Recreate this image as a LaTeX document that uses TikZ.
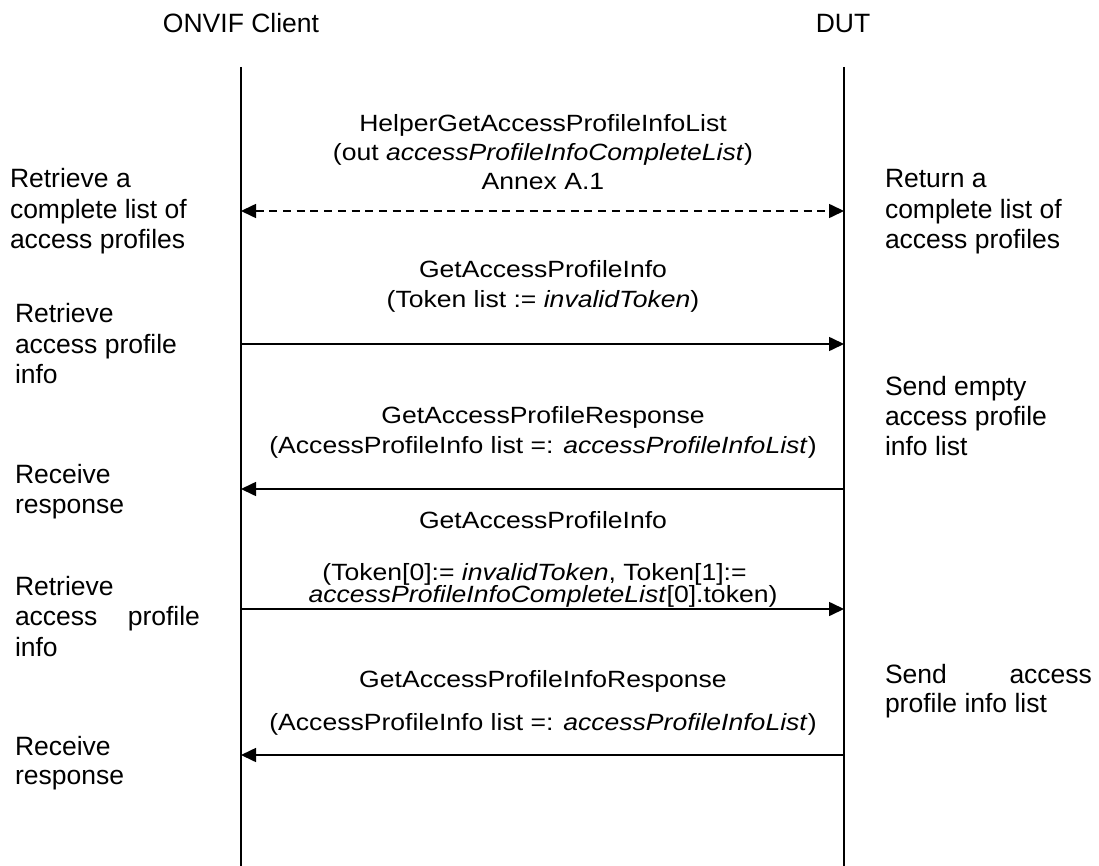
\documentclass[tikz,border=0pt]{standalone}
\usepackage{fontspec}
\setmainfont{Liberation Sans}
\newfontfamily\msgfont[FakeStretch=1.13]{Liberation Sans}
\usetikzlibrary{arrows.meta}
\newcommand\linesC[2]{\vtop{\baselineskip=#1\lineskiplimit=-1000pt\lineskip=0pt\halign{\hfil##\hfil\cr#2\crcr}}}
\newcommand\linesL[2]{\vtop{\baselineskip=#1\lineskiplimit=-1000pt\lineskip=0pt\halign{##\hfil\cr#2\crcr}}}
\begin{document}
\begin{tikzpicture}[x=1pt,y=-1pt,
  txt/.style={inner sep=0pt, outer sep=0pt, anchor=base, font=\fontsize{26.5}{30}\selectfont},
  msgtxt/.style={inner sep=0pt, outer sep=0pt, anchor=base, font=\msgfont\fontsize{23.5}{29}\selectfont},
  side/.style={inner sep=0pt, outer sep=0pt, anchor=base west, font=\fontsize{26.5}{30}\selectfont},
  lifeline/.style={line width=1.8pt},
  msg/.style={line width=1.6pt, -{Triangle[length=15pt,width=14pt]}},
  dmsg/.style={line width=1.6pt, dash pattern=on 8pt off 5.7pt, {Triangle[length=15pt,width=14pt]}-{Triangle[length=15pt,width=14pt]}}]
\fill[white] (0,0) rectangle (1099,866);
\useasboundingbox (0,0) rectangle (1099,866);

% headers
\node[txt] (client) at (241,33) {ONVIF Client};
\node[txt] (dut) at (843,33) {DUT};

% lifelines
\coordinate (ctop) at (241,67);
\coordinate (cbot) at (241,866);
\coordinate (dtop) at (844,67);
\coordinate (dbot) at (844,866);
\draw[lifeline] (ctop) -- (cbot);
\draw[lifeline] (dtop) -- (dbot);

% arrow end points
\coordinate (c1) at (241,211); \coordinate (d1) at (844,211);
\coordinate (c2) at (241,344); \coordinate (d2) at (844,344);
\coordinate (c3) at (241,489); \coordinate (d3) at (844,489);
\coordinate (c4) at (241,609); \coordinate (d4) at (844,609);
\coordinate (c5) at (241,755); \coordinate (d5) at (844,755);

% messages
\node[msgtxt] (m1) at (543,132) {\linesC{29pt}{HelperGetAccessProfileInfoList\cr (out \textit{accessProfileInfoCompleteList})\cr Annex A.1}};
\draw[dmsg] (c1) -- (d1);

\node[msgtxt] (m2) at (543,278) {\linesC{29pt}{GetAccessProfileInfo\cr (Token list := \textit{invalidToken})}};
\draw[msg] (c2) -- (d2);

\node[msgtxt] (m3) at (543,423) {\linesC{30pt}{GetAccessProfileResponse\cr (AccessProfileInfo list =: \textit{accessProfileInfoList})}};
\draw[msg] (d3) -- (c3);

\node[msgtxt] (m4a) at (543,528) {GetAccessProfileInfo};
\node[msgtxt] (m4b) at (543,580) {\linesC{22.5pt}{(Token[0]:= \textit{invalidToken}, Token[1]:=\kern17pt\cr \textit{accessProfileInfoCompleteList}[0].token)}};
\draw[msg] (c4) -- (d4);

\node[msgtxt] (m5a) at (543,687) {GetAccessProfileInfoResponse};
\node[msgtxt] (m5b) at (543,730) {(AccessProfileInfo list =: \textit{accessProfileInfoList})};
\draw[msg] (d5) -- (c5);

% client side notes
\node[side] (l1) at (10,188) {\linesL{30.5pt}{Retrieve a\cr complete list of\cr access profiles}};
\node[side] (l2) at (15,323) {\linesL{30pt}{Retrieve\cr access profile\cr info}};
\node[side] (l3) at (15,483) {\linesL{30pt}{Receive\cr response}};
\node[side] (l4) at (15,595) {\linesL{30.5pt}{Retrieve\cr \hbox to 185pt{access\hfil profile}\cr info}};
\node[side] (l5) at (15,755) {\linesL{29pt}{Receive\cr response}};

% DUT side notes
\node[side] (r1) at (885,188) {\linesL{30.5pt}{Return a\cr complete list of\cr access profiles}};
\node[side] (r2) at (885,395) {\linesL{30pt}{Send empty\cr access profile\cr info list}};
\node[side] (r3) at (885,683) {\linesL{29pt}{\hbox to 207pt{Send\hfil access}\cr profile info list}};
\end{tikzpicture}
\end{document}
